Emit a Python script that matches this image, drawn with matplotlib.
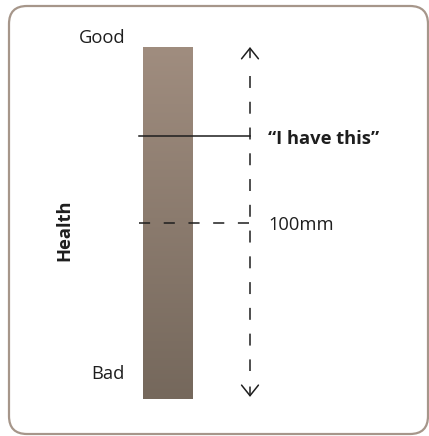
import numpy as np
import matplotlib.pyplot as plt
from matplotlib.patches import FancyBboxPatch
from matplotlib.colors import LinearSegmentedColormap

# scale data (health, 0 = bad, 100 = good)
scale_min = 0
scale_max = 100
end_labels = ["Bad", "Good"]
end_label_values = [5.7, 101.1]
axis_label = "Health"
answer_label = "\u201cI have this\u201d"
answer_value = 74.7
length_label = "100mm"
length_value = 50

plt.rcParams['font.family'] = ['Open Sans', 'DejaVu Sans']
plt.rcParams['lines.scale_dashes'] = False

W, H = 429, 436
fig = plt.figure(figsize=(W / 100, H / 100), dpi=100)

# background frame in pixel coords
bg = fig.add_axes([0, 0, 1, 1])
bg.set_xlim(0, W)
bg.set_ylim(H, 0)
bg.axis('off')
frame = FancyBboxPatch((9, 6), 419, 428, boxstyle='round,pad=0,rounding_size=18',
                       fc='white', ec='#a6968a', lw=1.6)
bg.add_patch(frame)

# chart axes: x in pixels, y in health units
bar_top_px, bar_bot_px = 47, 399
ax = fig.add_axes([0, (H - bar_bot_px) / H, 1, (bar_bot_px - bar_top_px) / H])
ax.set_xlim(0, W)
ax.set_ylim(scale_min, scale_max)
ax.axis('off')

# gradient bar
cmap = LinearSegmentedColormap.from_list('bar', ['#75685c', '#a08d7f'])
grad = np.linspace(0, 1, 256).reshape(-1, 1)
ax.imshow(grad, extent=[143, 193, scale_min, scale_max], origin='lower',
          cmap=cmap, aspect='auto', zorder=1)

ink = '#1e1e1e'
arrow_x = 250

# vertical dashed scale line with arrow heads
ax.plot([arrow_x, arrow_x], [91.8, 8.0], color=ink, lw=1.1,
        linestyle=(0, (8.6, 9.95)), zorder=2)
for y0, y1 in [(97.0, scale_max), (3.4, scale_min + 0.6)]:
    ax.annotate('', xy=(arrow_x, y1), xytext=(arrow_x, y0),
                arrowprops=dict(arrowstyle='->,head_length=0.4,head_width=0.32',
                                color=ink, lw=1.1, mutation_scale=19,
                                shrinkA=0, shrinkB=0))

# answer line and midpoint line
ax.plot([139, arrow_x], [answer_value, answer_value], color=ink, lw=1.1, zorder=2)
ax.plot([139, arrow_x], [length_value, length_value], color=ink, lw=1.1,
        linestyle=(0, (8.0, 9.8)), zorder=2)

# texts
for lab, v in zip(end_labels, end_label_values):
    ax.text(125, v, lab, ha='right', va='baseline', fontsize=13.2, color=ink)
ax.text(69, 48.0, axis_label, rotation=90, rotation_mode='anchor',
        ha='center', va='baseline', fontsize=13.2, fontweight='bold', color=ink)
ax.text(268, 72.4, answer_label, ha='left', va='baseline', fontsize=13.2,
        fontweight='bold', color=ink)
ax.text(268, 48.0, length_label, ha='left', va='baseline', fontsize=13.2, color=ink)

fig.savefig('out.png', dpi=100)
